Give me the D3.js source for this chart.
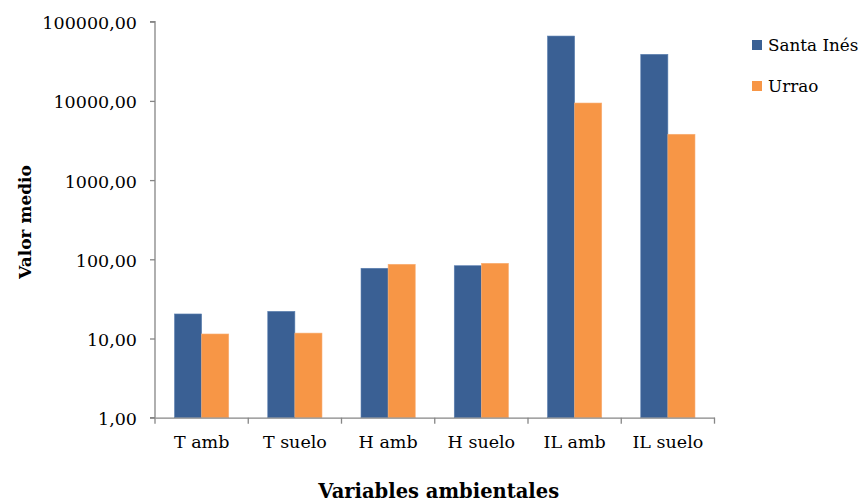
<!DOCTYPE html>
<html><head><meta charset="utf-8">
<script src="https://cdn.jsdelivr.net/npm/d3@7"></script>
<style>body{margin:0;background:#fff}svg{display:block}</style>
</head><body>
<svg id="c" width="865" height="504"></svg>
<script>
const categories = ["T amb","T suelo","H amb","H suelo","IL amb","IL suelo"];
const seriesNames = ["Santa Inés","Urrao"];
const santaInes = [20.4, 22.0, 77, 83, 65900, 38700];
const urrao = [11.4, 11.7, 86.5, 89, 9400, 3790];
const yTicks = [1,10,100,1000,10000,100000];
const colors = ["#3a6094","#f79646"];

(function(){
const svg = d3.select("#c");
const mLeft = 155, mRight = 714.5, mTop = 21.7, mBottom = 417.7;
const x = d3.scaleBand().domain(categories).range([mLeft,mRight]).paddingInner(0).paddingOuter(0);
const y = d3.scaleLog().domain([1,100000]).range([mBottom,mTop]);
const x1 = d3.scaleBand().domain(seriesNames).range([0,x.bandwidth()]).paddingInner(0).paddingOuter(0.72);

const serif = "'DejaVu Serif', serif";
const axisColor = "#868686";

const data = [santaInes, urrao];
seriesNames.forEach((s,si)=>{
  svg.append("g").selectAll("rect").data(categories).join("rect")
    .attr("x", c=>x(c)+x1(s))
    .attr("width", x1.bandwidth())
    .attr("y", (c,i)=>y(data[si][i]))
    .attr("height", (c,i)=>mBottom - y(data[si][i]))
    .attr("fill", colors[si])
    .attr("stroke", si===0 ? "#5a7fb0" : "#f9ae74")
    .attr("stroke-width", 0.6);
});

const ya = d3.axisLeft(y).tickValues(yTicks).tickSize(5).tickPadding(13)
  .tickFormat(d=>d3.format(".2f")(d).replace(".",","));
const gy = svg.append("g").attr("transform",`translate(${mLeft},0)`).call(ya);
gy.select(".domain").attr("stroke",axisColor).attr("stroke-width",1.3).attr("d",`M-5,${mTop}H0V${mBottom}H-5`);
gy.selectAll(".tick line").attr("stroke",axisColor).attr("stroke-width",1.3);
gy.selectAll("text").attr("font-family",serif).attr("font-size",17.5).attr("fill","#000").attr("dy","0.4em");

const xa = d3.axisBottom(x).tickSize(0).tickPadding(20);
const gx = svg.append("g").attr("transform",`translate(0,${mBottom})`).call(xa);
gx.select(".domain").attr("stroke",axisColor).attr("stroke-width",1.3);
gx.selectAll("text").attr("font-family",serif).attr("font-size",17.5).attr("fill","#000").attr("dy","0.58em");
svg.append("g").attr("transform",`translate(0,${mBottom})`).selectAll("line")
  .data(categories.concat(["_end"])).join("line")
  .attr("x1",(d,i)=> i<categories.length ? x(d) : mRight)
  .attr("x2",(d,i)=> i<categories.length ? x(d) : mRight)
  .attr("y1",0).attr("y2",6).attr("stroke",axisColor).attr("stroke-width",1.3);

svg.append("text").attr("x",(mLeft+mRight)/2 + 4).attr("y",498).attr("text-anchor","middle")
  .attr("font-family",serif).attr("font-weight","bold").attr("font-size",19.5).text("Variables ambientales");
svg.append("text").attr("transform","translate(31,222) rotate(-90)").attr("text-anchor","middle")
  .attr("font-family",serif).attr("font-weight","bold").attr("font-size",17).text("Valor medio");

const lg = svg.append("g").selectAll("g").data(seriesNames).join("g")
  .attr("transform",(d,i)=>`translate(752,${40+i*41})`);
lg.append("rect").attr("width",10).attr("height",10).attr("fill",(d,i)=>colors[i]);
lg.append("text").attr("x",16).attr("y",11).attr("font-family",serif).attr("font-size",16.8).text(d=>d);
})();
</script>
</body></html>
